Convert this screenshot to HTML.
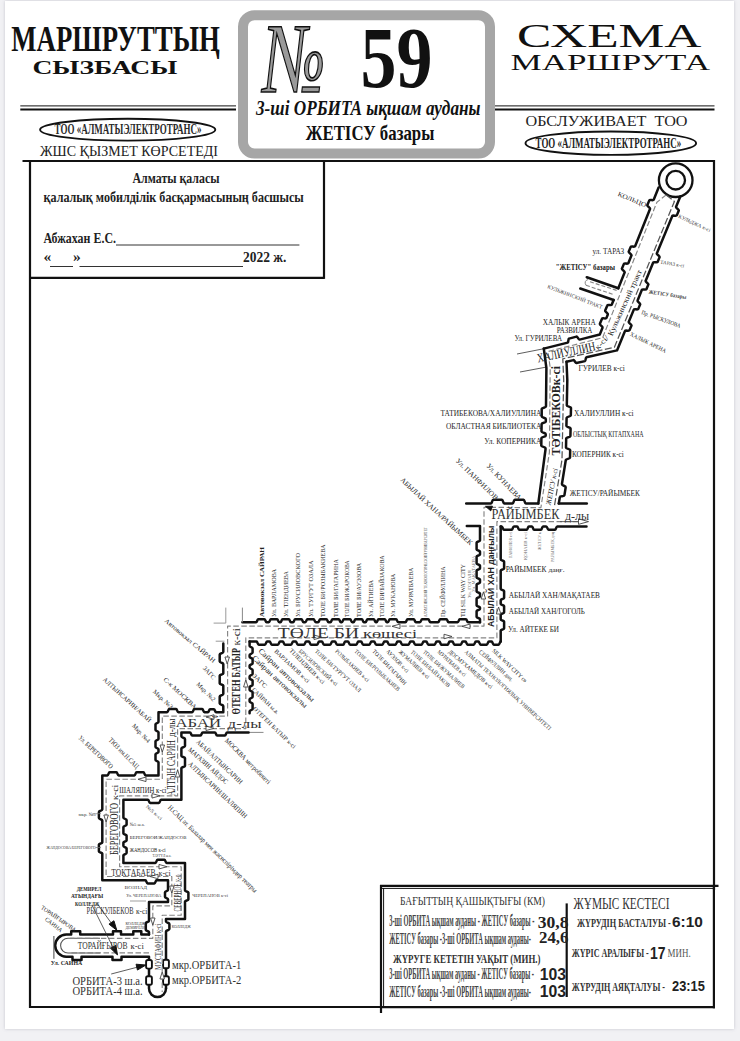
<!DOCTYPE html>
<html lang="kk">
<head>
<meta charset="utf-8">
<title>№ 59 — Маршруттың сызбасы / Схема маршрута</title>
<style>
html,body{margin:0;padding:0;background:#f1f1f4;}
body{width:740px;height:1041px;overflow:hidden;position:relative;font-family:"Liberation Serif",serif;}
#sheet{position:absolute;left:4.7px;top:1.3px;width:729.8px;height:1028px;background:#fff;box-shadow:0 0 3px rgba(120,120,140,.35);}
svg{position:absolute;left:0;top:0;}
text{white-space:pre;}
</style>
</head>
<body>
<div id="sheet"></div>
<svg width="740" height="1041" viewBox="0 0 740 1041">
<text font-family='"Liberation Serif", serif' font-size="36.7" font-weight="bold" textLength="208.5" lengthAdjust="spacingAndGlyphs" fill="#111" x="11.3" y="50.9" >МАРШРУТТЫҢ</text>
<text font-family='"Liberation Serif", serif' font-size="18.2" font-weight="bold" textLength="145.0" lengthAdjust="spacingAndGlyphs" fill="#111" x="32.4" y="74.0" >СЫЗБАСЫ</text>
<line x1="20.3" y1="105.9" x2="236.0" y2="105.9" stroke="#111" stroke-width="1" />
<line x1="20.3" y1="109.6" x2="236.0" y2="109.6" stroke="#111" stroke-width="2" />
<ellipse cx="127.7" cy="129.7" rx="87.6" ry="10.9" fill="none" stroke="#111" stroke-width="1.9"/>
<text font-family='"Liberation Serif", serif' font-size="14" font-weight="bold" textLength="147.0" lengthAdjust="spacingAndGlyphs" fill="#2a2a2a" x="54.5" y="134.0" >ТОО «АЛМАТЫЭЛЕКТРОТРАНС»</text>
<text font-family='"Liberation Serif", serif' font-size="14.7" textLength="178.0" lengthAdjust="spacingAndGlyphs" fill="#222" x="40.0" y="155.9" >ЖШС ҚЫЗМЕТ КӨРСЕТЕДІ</text>
<text font-family='"Liberation Serif", serif' font-size="33.5" textLength="184.5" lengthAdjust="spacingAndGlyphs" fill="#111" x="517.0" y="47.2" >СХЕМА</text>
<text font-family='"Liberation Serif", serif' font-size="22.6" textLength="199.5" lengthAdjust="spacingAndGlyphs" fill="#111" x="510.5" y="69.9" >МАРШРУТА</text>
<line x1="495.0" y1="105.9" x2="714.5" y2="105.9" stroke="#111" stroke-width="1" />
<line x1="495.0" y1="109.6" x2="714.5" y2="109.6" stroke="#111" stroke-width="2" />
<text font-family='"Liberation Serif", serif' font-size="15" textLength="162.0" lengthAdjust="spacingAndGlyphs" fill="#222" x="525.5" y="125.7" >ОБСЛУЖИВАЕТ  ТОО</text>
<ellipse cx="610.8" cy="143.2" rx="85.3" ry="11.7" fill="none" stroke="#111" stroke-width="1.9"/>
<text font-family='"Liberation Serif", serif' font-size="14.2" font-weight="bold" textLength="145.5" lengthAdjust="spacingAndGlyphs" fill="#222" x="535.6" y="147.7" >ТОО «АЛМАТЫЭЛЕКТРОТРАНС»</text>
<rect x="243" y="15.2" width="247" height="138.3" rx="11.5" ry="11.5" fill="#fff" stroke="#a6a6a6" stroke-width="10"/>
<text font-family='"Liberation Serif", serif' font-size="100" font-style="italic" textLength="62.0" lengthAdjust="spacingAndGlyphs" fill="#9a9a9a" x="263.0" y="91.5" stroke="#111" stroke-width="1.7" paint-order="fill stroke">№</text>
<text font-family='"Liberation Serif", serif' font-size="87" font-weight="bold" textLength="72.0" lengthAdjust="spacingAndGlyphs" fill="#111" x="360.5" y="87.0" >59</text>
<text font-family='"Liberation Serif", serif' font-size="20" font-weight="bold" font-style="italic" textLength="224.5" lengthAdjust="spacingAndGlyphs" fill="#111" x="256.0" y="115.3" >3-ші ОРБИТА ықшам ауданы</text>
<text font-family='"Liberation Serif", serif' font-size="21" font-weight="bold" textLength="128.5" lengthAdjust="spacingAndGlyphs" fill="#111" x="305.8" y="140.0" >ЖЕТІСУ базары</text>
<line x1="22.5" y1="161.0" x2="715.0" y2="161.0" stroke="#111" stroke-width="2.2" />
<line x1="30.0" y1="160.0" x2="30.0" y2="1008.0" stroke="#111" stroke-width="2.2" />
<line x1="29.0" y1="1007.0" x2="382.0" y2="1007.0" stroke="#111" stroke-width="2.2" />
<line x1="714.0" y1="160.0" x2="714.0" y2="890.0" stroke="#111" stroke-width="2.2" />
<line x1="30.0" y1="277.8" x2="324.0" y2="277.8" stroke="#111" stroke-width="2.2" />
<line x1="324.0" y1="160.0" x2="324.0" y2="278.9" stroke="#111" stroke-width="2.2" />
<text font-family='"Liberation Serif", serif' font-size="15.5" font-weight="bold" textLength="87.0" lengthAdjust="spacingAndGlyphs" fill="#222" x="132.5" y="182.5" >Алматы қаласы</text>
<text font-family='"Liberation Serif", serif' font-size="15.5" font-weight="bold" textLength="260.3" lengthAdjust="spacingAndGlyphs" fill="#222" x="43.5" y="202.2" >қалалық мобилділік басқармасының басшысы</text>
<text font-family='"Liberation Serif", serif' font-size="15.5" font-weight="bold" textLength="72.5" lengthAdjust="spacingAndGlyphs" fill="#222" x="43.5" y="242.8" >Абжахан Е.С.</text>
<line x1="116.0" y1="245.0" x2="299.4" y2="245.0" stroke="#333" stroke-width="1" />
<text font-family='"Liberation Serif", serif' font-size="15.5" font-weight="bold" fill="#222" x="43.5" y="262.0" >«</text>
<text font-family='"Liberation Serif", serif' font-size="15.5" font-weight="bold" fill="#222" x="73.0" y="262.0" >»</text>
<line x1="50.0" y1="266.5" x2="73.0" y2="266.5" stroke="#333" stroke-width="1" />
<line x1="79.5" y1="266.5" x2="243.0" y2="266.5" stroke="#333" stroke-width="1" />
<text font-family='"Liberation Serif", serif' font-size="15.5" font-weight="bold" textLength="43.5" lengthAdjust="spacingAndGlyphs" fill="#222" x="243.0" y="262.0" >2022 ж.</text>
<circle cx="675.7" cy="180.2" r="16.8" fill="#fff" stroke="#111" stroke-width="2.3"/>
<circle cx="675.7" cy="180.2" r="9.3" fill="#fff" stroke="#111" stroke-width="2.3"/>
<path d="M658.6 187.5 L653.7 199.8 C653.3 200.8 649.7 199.4 649.3 200.4 L647.3 205.3 C646.9 206.3 650.5 207.8 650.1 208.8 L635.1 246.3 C634.7 247.3 631.1 245.9 630.7 246.9 L628.7 251.8 C628.3 252.8 631.9 254.3 631.5 255.3 L628.3 263.3 C627.9 264.3 624.3 262.9 623.9 263.9 L621.9 268.8 C621.5 269.8 625.1 271.3 624.7 272.3 L618.3 288.3" stroke="#111" stroke-width="2.5" fill="none" stroke-linejoin="round" stroke-linecap="round"/>
<path d="M586.8 277.3 L618.3 288.3" stroke="#111" stroke-width="2.6" fill="none" stroke-linejoin="round" stroke-linecap="round"/>
<path d="M580.3 288.6 L613.6 300.0" stroke="#111" stroke-width="2.6" fill="none" stroke-linejoin="round" stroke-linecap="round"/>
<path d="M613.6 300.0 L611.7 304.8 C611.3 305.8 607.7 304.3 607.3 305.4 L605.1 310.7 C604.7 311.8 608.3 313.2 607.9 314.2 L606.4 318.1 C606.0 319.1 602.4 317.6 602.0 318.7 L599.8 324.0 C599.4 325.1 603.0 326.5 602.6 327.5 L599.8 334.5 L579.6 339.6 C578.5 339.9 577.6 336.4 576.5 336.6 L569.0 338.6 C567.9 338.8 568.8 342.3 567.7 342.6 L543.8 348.6" stroke="#111" stroke-width="2.5" fill="none" stroke-linejoin="round" stroke-linecap="round"/>
<path d="M680.3 196.5 L676.0 207.0 C675.6 208.0 679.2 209.5 678.8 210.5 L676.8 215.4 C676.4 216.4 672.8 214.9 672.3 215.9 L656.8 253.6 C656.4 254.6 660.0 256.1 659.6 257.1 L657.6 262.0 C657.2 263.0 653.6 261.5 653.2 262.5 L645.6 280.9 C645.2 281.9 648.8 283.4 648.4 284.4 L646.4 289.3 C646.0 290.3 642.3 288.8 641.9 289.8 L637.5 300.7 C637.0 301.7 640.6 303.2 640.2 304.2 L638.2 309.1 C637.8 310.1 634.2 308.6 633.8 309.6 L628.7 322.0 C628.3 323.0 631.9 324.5 631.5 325.5 L629.4 330.4 C629.0 331.4 625.4 329.9 625.0 331.0 L617.0 350.4 L586.4 357.3 C585.3 357.5 586.0 360.8 585.0 361.1 L576.4 363.0 C575.3 363.2 574.5 359.9 573.5 360.1 L566.5 361.7" stroke="#111" stroke-width="2.5" fill="none" stroke-linejoin="round" stroke-linecap="round"/>
<line x1="517.0" y1="354.0" x2="543.5" y2="348.8" stroke="#333" stroke-width="0.8" />
<line x1="520.0" y1="372.0" x2="545.8" y2="367.2" stroke="#333" stroke-width="0.8" />
<path d="M543.8 348.6 L546.4 368.0 L546.0 406.6 C546.0 407.7 541.8 407.7 541.7 408.8 L541.7 416.6 C541.7 417.7 545.9 417.7 545.8 418.8 L545.8 421.7 C545.8 422.8 541.6 422.8 541.6 423.9 L541.5 431.6 C541.5 432.7 545.7 432.8 545.7 433.9 L545.7 435.8 C545.6 436.9 541.4 436.8 541.4 437.9 L541.3 445.7 C541.3 446.8 545.5 446.9 545.5 448.0 L545.5 449.5 L538.3 503.5" stroke="#111" stroke-width="2.5" fill="none" stroke-linejoin="round" stroke-linecap="round"/>
<path d="M566.5 361.7 L567.3 380.0 L566.8 405.5 C566.8 406.6 571.0 406.7 571.0 407.8 L570.8 415.6 C570.8 416.7 566.6 416.6 566.6 417.7 L566.4 426.1 C566.4 427.2 570.6 427.3 570.6 428.4 L570.4 436.2 C570.4 437.3 566.2 437.2 566.2 438.3 L566.0 447.7 C566.0 448.8 570.2 448.9 570.2 450.0 L570.0 457.8 C570.0 458.9 565.8 458.8 565.8 459.9 L565.8 460.0 L561.9 484.3 C561.7 485.4 565.9 486.1 565.7 487.2 L564.4 495.4 C564.2 496.5 560.0 495.8 559.9 496.9 L558.8 503.5" stroke="#111" stroke-width="2.5" fill="none" stroke-linejoin="round" stroke-linecap="round"/>
<path d="M466.2 503.5 L491.0 503.5 C492.1 503.5 492.1 499.7 493.2 499.7 L502.0 499.7 C503.1 499.7 503.1 503.5 504.2 503.5 L512.6 503.5 C513.7 503.5 513.7 499.7 514.8 499.7 L523.6 499.7 C524.7 499.7 524.7 503.5 525.8 503.5 L538.3 503.5" stroke="#111" stroke-width="2.5" fill="none" stroke-linejoin="round" stroke-linecap="round"/>
<path d="M558.8 503.5 L586.8 503.5" stroke="#111" stroke-width="2.5" fill="none" stroke-linejoin="round" stroke-linecap="round"/>
<path d="M586.5 526.4 L557.2 526.4 C556.1 526.4 556.1 529.8 555.0 529.8 L548.5 529.8 C547.4 529.8 547.4 526.4 546.2 526.4 L543.0 526.4 C542.0 526.4 542.0 529.8 540.9 529.8 L534.1 529.8 C533.0 529.8 533.0 526.4 532.0 526.4 L528.9 526.4 C527.8 526.4 527.8 529.8 526.6 529.8 L519.4 529.8 C518.2 529.8 518.2 526.4 517.1 526.4 L513.9 526.4 C512.8 526.4 512.8 529.8 511.7 529.8 L503.9 529.8 C502.8 529.8 502.8 526.4 501.7 526.4 L500.7 526.4" stroke="#111" stroke-width="2.5" fill="none" stroke-linejoin="round" stroke-linecap="round"/>
<path d="M500.7 526.4 L500.7 559.4 C500.7 560.5 504.1 560.5 504.1 561.6 L504.1 568.4 C504.1 569.5 500.7 569.5 500.7 570.6 L500.7 588.9 C500.7 590.0 504.1 590.0 504.1 591.1 L504.1 597.9 C504.1 599.0 500.7 599.0 500.7 600.1 L500.7 603.9 C500.7 605.0 504.1 605.0 504.1 606.1 L504.1 612.4 C504.1 613.5 500.7 613.5 500.7 614.6 L500.7 619.4 C500.7 620.5 504.1 620.5 504.1 621.6 L504.1 628.4 C504.1 629.5 500.7 629.5 500.7 630.6 L500.7 641.6" stroke="#111" stroke-width="2.5" fill="none" stroke-linejoin="round" stroke-linecap="round"/>
<path d="M466.8 526.0 L480.0 526.0 L480.0 540.4 C480.0 541.5 476.6 541.5 476.6 542.6 L476.6 549.4 C476.6 550.5 480.0 550.5 480.0 551.6 L480.0 554.4 C480.0 555.5 476.6 555.5 476.6 556.6 L476.6 563.4 C476.6 564.5 480.0 564.5 480.0 565.6 L480.0 568.4 C480.0 569.5 476.6 569.5 476.6 570.6 L476.6 577.4 C476.6 578.5 480.0 578.5 480.0 579.6 L480.0 582.4 C480.0 583.5 476.6 583.5 476.6 584.6 L476.6 591.4 C476.6 592.5 480.0 592.5 480.0 593.6 L480.0 596.4 C480.0 597.5 476.6 597.5 476.6 598.6 L476.6 605.4 C476.6 606.5 480.0 606.5 480.0 607.6 L480.0 608.9 C480.0 610.0 476.6 610.0 476.6 611.1 L476.6 616.9 C476.6 618.0 480.0 618.0 480.0 619.1 L480.0 622.3" stroke="#111" stroke-width="2.5" fill="none" stroke-linejoin="round" stroke-linecap="round"/>
<path d="M480.0 622.3 L468.1 622.3 C467.0 622.3 467.0 619.2 465.9 619.2 L459.8 619.2 C458.8 619.2 458.8 622.3 457.6 622.3 L448.6 622.3 C447.5 622.3 447.5 619.2 446.4 619.2 L440.3 619.2 C439.2 619.2 439.2 622.3 438.1 622.3 L430.4 622.3 C429.3 622.3 429.3 619.2 428.2 619.2 L422.1 619.2 C421.1 619.2 421.1 622.3 419.9 622.3 L415.9 622.3 C414.8 622.3 414.8 619.2 413.7 619.2 L407.6 619.2 C406.5 619.2 406.5 622.3 405.4 622.3 L398.2 622.3 C397.1 622.3 397.1 619.2 396.1 619.2 L389.9 619.2 C388.9 619.2 388.9 622.3 387.8 622.3 L386.9 622.3 C385.8 622.3 385.8 619.2 384.7 619.2 L378.6 619.2 C377.5 619.2 377.5 622.3 376.4 622.3 L375.9 622.3 C374.8 622.3 374.8 619.2 373.7 619.2 L367.6 619.2 C366.5 619.2 366.5 622.3 365.4 622.3 L363.9 622.3 C362.9 622.3 362.9 619.2 361.8 619.2 L355.6 619.2 C354.5 619.2 354.5 622.3 353.4 622.3 L352.2 622.3 C351.1 622.3 351.1 619.2 350.1 619.2 L343.9 619.2 C342.9 619.2 342.9 622.3 341.8 622.3 L340.9 622.3 C339.8 622.3 339.8 619.2 338.7 619.2 L332.6 619.2 C331.5 619.2 331.5 622.3 330.4 622.3 L328.6 622.3 C327.5 622.3 327.5 619.2 326.4 619.2 L320.3 619.2 C319.2 619.2 319.2 622.3 318.1 622.3 L315.8 622.3 C314.6 622.3 314.6 619.2 313.6 619.2 L307.4 619.2 C306.4 619.2 306.4 622.3 305.2 622.3 L303.6 622.3 C302.5 622.3 302.5 619.2 301.4 619.2 L295.2 619.2 C294.1 619.2 294.1 622.3 293.1 622.3 L290.9 622.3 C289.9 622.3 289.9 619.2 288.8 619.2 L282.6 619.2 C281.5 619.2 281.5 622.3 280.4 622.3 L279.2 622.3 C278.1 622.3 278.1 619.2 277.1 619.2 L270.9 619.2 C269.9 619.2 269.9 622.3 268.8 622.3 L266.6 622.3 C265.5 622.3 265.5 619.2 264.4 619.2 L258.3 619.2 C257.2 619.2 257.2 622.3 256.1 622.3 L242.4 622.3" stroke="#111" stroke-width="2.5" fill="none" stroke-linejoin="round" stroke-linecap="round"/>
<path d="M500.7 641.6 L500.8 641.6 C499.7 641.6 499.7 644.7 498.6 644.7 L493.8 644.7 C492.7 644.7 492.7 641.6 491.6 641.6 L488.9 641.6 C487.8 641.6 487.8 644.7 486.7 644.7 L480.6 644.7 C479.5 644.7 479.5 641.6 478.4 641.6 L475.9 641.6 C474.8 641.6 474.8 644.7 473.7 644.7 L467.6 644.7 C466.5 644.7 466.5 641.6 465.4 641.6 L462.8 641.6 C461.7 641.6 461.7 644.7 460.6 644.7 L454.5 644.7 C453.4 644.7 453.4 641.6 452.3 641.6 L449.8 641.6 C448.6 641.6 448.6 644.7 447.6 644.7 L441.4 644.7 C440.4 644.7 440.4 641.6 439.2 641.6 L436.7 641.6 C435.6 641.6 435.6 644.7 434.5 644.7 L428.4 644.7 C427.3 644.7 427.3 641.6 426.2 641.6 L423.7 641.6 C422.6 641.6 422.6 644.7 421.5 644.7 L415.4 644.7 C414.2 644.7 414.2 641.6 413.2 641.6 L410.6 641.6 C409.5 641.6 409.5 644.7 408.4 644.7 L402.3 644.7 C401.2 644.7 401.2 641.6 400.1 641.6 L397.6 641.6 C396.5 641.6 396.5 644.7 395.4 644.7 L389.2 644.7 C388.1 644.7 388.1 641.6 387.1 641.6 L384.5 641.6 C383.4 641.6 383.4 644.7 382.3 644.7 L376.2 644.7 C375.1 644.7 375.1 641.6 374.0 641.6 L371.5 641.6 C370.4 641.6 370.4 644.7 369.3 644.7 L363.2 644.7 C362.1 644.7 362.1 641.6 361.0 641.6 L358.4 641.6 C357.3 641.6 357.3 644.7 356.2 644.7 L350.1 644.7 C349.0 644.7 349.0 641.6 347.9 641.6 L345.4 641.6 C344.2 641.6 344.2 644.7 343.2 644.7 L337.1 644.7 C336.0 644.7 336.0 641.6 334.9 641.6 L332.3 641.6 C331.2 641.6 331.2 644.7 330.1 644.7 L324.0 644.7 C322.9 644.7 322.9 641.6 321.8 641.6 L319.2 641.6 C318.1 641.6 318.1 644.7 317.1 644.7 L310.9 644.7 C309.9 644.7 309.9 641.6 308.8 641.6 L306.2 641.6 C305.1 641.6 305.1 644.7 304.0 644.7 L297.9 644.7 C296.8 644.7 296.8 641.6 295.7 641.6 L293.2 641.6 C292.1 641.6 292.1 644.7 291.0 644.7 L284.9 644.7 C283.8 644.7 283.8 641.6 282.7 641.6 L280.1 641.6 C279.0 641.6 279.0 644.7 277.9 644.7 L271.8 644.7 C270.7 644.7 270.7 641.6 269.6 641.6 L267.1 641.6 C266.0 641.6 266.0 644.7 264.9 644.7 L258.8 644.7 C257.6 644.7 257.6 641.6 256.6 641.6 L249.6 641.6" stroke="#111" stroke-width="2.5" fill="none" stroke-linejoin="round" stroke-linecap="round"/>
<path d="M242.4 607.6 L242.4 622.3" stroke="#888" stroke-width="1.0" fill="none" />
<path d="M225.8 607.6 L225.8 623.1 L213.6 623.1" stroke="#999" stroke-width="1.0" fill="none" />
<line x1="215.7" y1="641.2" x2="224.5" y2="641.2" stroke="#999" stroke-width="1.0" />
<path d="M249.6 641.6 L249.6 646.1 C249.6 647.2 252.6 647.2 252.6 648.4 L252.6 652.6 C252.6 653.8 249.6 653.8 249.6 654.9 L249.6 656.9 C249.6 658.0 252.6 658.0 252.6 659.1 L252.6 663.4 C252.6 664.5 249.6 664.5 249.6 665.6 L249.6 667.6 C249.6 668.8 252.6 668.8 252.6 669.9 L252.6 674.1 C252.6 675.2 249.6 675.2 249.6 676.4 L249.6 678.4 C249.6 679.5 252.6 679.5 252.6 680.6 L252.6 684.9 C252.6 686.0 249.6 686.0 249.6 687.1 L249.6 690.0 C249.6 691.1 252.6 691.1 252.6 692.2 L252.6 697.0 C252.6 698.1 249.6 698.1 249.6 699.2 L249.6 701.5 C249.6 702.6 252.6 702.6 252.6 703.8 L252.6 709.0 C252.6 710.1 249.6 710.1 249.6 711.2 L249.6 713.2" stroke="#111" stroke-width="2.5" fill="none" stroke-linejoin="round" stroke-linecap="round"/>
<path d="M223.3 643.5 L223.3 652.1 C223.3 653.2 219.7 653.2 219.7 654.4 L219.7 661.6 C219.7 662.8 223.3 662.8 223.3 663.9 L223.3 673.4 C223.3 674.5 219.7 674.5 219.7 675.6 L219.7 683.4 C219.7 684.5 223.3 684.5 223.3 685.6 L223.3 694.1 C223.3 695.2 219.7 695.2 219.7 696.4 L219.7 703.6 C219.7 704.8 223.3 704.8 223.3 705.9 L223.3 712.3 L216.1 712.3 C215.0 712.3 215.0 709.3 213.9 709.3 L210.1 709.3 C209.0 709.3 209.0 712.3 207.9 712.3 L204.4 712.3 C203.3 712.3 203.3 709.1 202.2 709.1 L194.4 709.1 C193.3 709.1 193.3 712.3 192.2 712.3 L178.3 712.3 C177.2 712.3 177.2 709.1 176.1 709.1 L169.3 709.1 C168.2 709.1 168.2 712.3 167.1 712.3 L158.5 712.3 L158.5 722.0 C158.5 723.1 155.5 723.1 155.5 724.2 L155.5 730.0 C155.5 731.1 158.5 731.1 158.5 732.2 L158.5 739.0 C158.5 740.1 155.5 740.1 155.5 741.2 L155.5 747.0 C155.5 748.1 158.5 748.1 158.5 749.2 L158.5 752.0 C158.5 753.1 155.5 753.1 155.5 754.2 L155.5 760.0 C155.5 761.1 158.5 761.1 158.5 762.2 L158.5 775.4 L145.6 775.4 C144.5 775.4 144.5 772.2 143.4 772.2 L136.6 772.2 C135.5 772.2 135.5 775.4 134.4 775.4 L118.6 775.4 C117.5 775.4 117.5 772.2 116.4 772.2 L109.6 772.2 C108.5 772.2 108.5 775.4 107.4 775.4 L102.3 775.4 L102.3 809.6 C102.3 810.8 98.9 810.8 98.9 811.9 L98.9 818.1 C98.9 819.2 102.3 819.2 102.3 820.4 L102.3 842.4 C102.3 843.5 98.9 843.5 98.9 844.6 L98.9 851.4 C98.9 852.5 102.3 852.5 102.3 853.6 L102.3 880.3 L145.4 880.3 C146.5 880.3 146.5 883.5 147.6 883.5 L154.4 883.5 C155.5 883.5 155.5 880.3 156.6 880.3 L168.0 880.3 L168.0 890.0 C168.0 891.1 165.0 891.1 165.0 892.2 L165.0 897.0 C165.0 898.1 168.0 898.1 168.0 899.2 L168.0 902.0 L149.0 902.0 L149.0 920.9 C149.0 922.0 145.8 922.0 145.8 923.1 L145.8 929.9 C145.8 931.0 149.0 931.0 149.0 932.1 L149.0 934.5" stroke="#111" stroke-width="2.5" fill="none" stroke-linejoin="round" stroke-linecap="round"/>
<line x1="248.0" y1="732.4" x2="263.5" y2="732.4" stroke="#888" stroke-width="1.0" />
<path d="M248.6 732.4 L227.1 732.4 C226.0 732.4 226.0 735.6 224.9 735.6 L217.1 735.6 C216.0 735.6 216.0 732.4 214.9 732.4 L202.7 732.4 C201.6 732.4 201.6 735.6 200.5 735.6 L192.2 735.6 C191.1 735.6 191.1 732.4 190.0 732.4 L181.4 732.4 L181.4 736.6 C181.4 737.8 185.0 737.8 185.0 738.9 L185.0 746.1 C185.0 747.2 181.4 747.2 181.4 748.4 L181.4 755.9 C181.4 757.0 185.0 757.0 185.0 758.1 L185.0 765.9 C185.0 767.0 181.4 767.0 181.4 768.1 L181.4 799.7 L161.1 799.7 C160.0 799.7 160.0 802.9 158.9 802.9 L150.1 802.9 C149.0 802.9 149.0 799.7 147.9 799.7 L123.4 799.7 L123.4 817.8 C123.4 818.9 126.6 818.9 126.6 820.0 L126.6 824.8 C126.6 825.9 123.4 825.9 123.4 827.0 L123.4 833.4 C123.4 834.5 126.6 834.5 126.6 835.6 L126.6 840.4 C126.6 841.5 123.4 841.5 123.4 842.6 L123.4 846.1 C123.4 847.2 126.6 847.2 126.6 848.3 L126.6 853.1 C126.6 854.2 123.4 854.2 123.4 855.3 L123.4 862.9 L155.4 862.9 C156.5 862.9 156.5 859.7 157.6 859.7 L164.4 859.7 C165.5 859.7 165.5 862.9 166.6 862.9 L185.0 862.9 L185.0 890.4 C185.0 891.5 188.4 891.5 188.4 892.6 L188.4 899.4 C188.4 900.5 185.0 900.5 185.0 901.6 L185.0 919.0 L166.0 919.0 L166.0 921.6 C166.0 922.8 169.4 922.8 169.4 923.9 L169.4 929.1 C169.4 930.2 166.0 930.2 166.0 931.4 L166.0 988.5" stroke="#111" stroke-width="2.5" fill="none" stroke-linejoin="round" stroke-linecap="round"/>
<path d="M149 934.5 L141.3 934.5 L141.3 931.3 L133.3 931.3 L133.3 934.5 L121.0 934.5 L121.0 931.3 L113.0 931.3 L113.0 934.5 L80.2 934.5 L80.2 931.3 L71.2 931.3 L71.2 934.5 L66.3 934.5 A11.1 11.1 0 0 0 66.3 956.7 L72.5 956.7 L72.5 959.9 L81.5 959.9 L81.5 956.7 L112.5 956.7 L112.5 959.9 L121.5 959.9 L121.5 956.7 L149 956.7 L149 988.5 A8.5 8.5 0 0 0 166 988.5" stroke="#111" stroke-width="2.5" fill="none" stroke-linejoin="round" stroke-linecap="round"/>
<rect x="146.1" y="960.0" width="5.8" height="8.6" rx="1.8" fill="#fff" stroke="#111" stroke-width="1.9"/>
<rect x="146.1" y="976.2" width="5.8" height="8.6" rx="1.8" fill="#fff" stroke="#111" stroke-width="1.9"/>
<rect x="163.1" y="959.7" width="5.8" height="8.6" rx="1.8" fill="#fff" stroke="#111" stroke-width="1.9"/>
<rect x="163.1" y="976.2" width="5.8" height="8.6" rx="1.8" fill="#fff" stroke="#111" stroke-width="1.9"/>
<path d="M100 938.2 L68 938.2 A7.4 7.4 0 0 0 68 953 L100 953" stroke="#555" stroke-width="1.1" fill="none" />
<path d="M53.9 936 L53.9 958.8" stroke="#444" stroke-width="1.0" fill="none" />
<path d="M666.2 194.9 L656.9 202.2 L602.6 337.7 L548.0 351.5 L550.2 367.8 L549.4 452.3 L540.9 507.7 L484.0 507.3 L484.0 626.1 L227.6 626.1 L227.6 716.1 L162.3 716.1 L162.3 779.2 L106.1 779.2 L106.1 876.5 L171.8 876.5 L171.8 905.8 L152.8 905.8 L152.8 938.3 L70.0 938.3" stroke="#858585" stroke-width="1.15" fill="none" stroke-dasharray="5.5 2.5" stroke-linejoin="round"/>
<path d="M666.2 194.9 L674.4 201.4 L614.4 347.3 L562.8 358.8 L563.7 380.0 L562.0 459.7 L554.2 507.4" stroke="#555" stroke-width="1.25" fill="none" stroke-dasharray="7 2.5" stroke-linejoin="round"/>
<path d="M586.0 521.6 L496.9 521.6 L496.9 637.8 L245.8 637.8 L245.8 728.6 L177.6 728.6 L177.6 795.9 L119.6 795.9 L119.6 866.7 L181.2 866.7 L181.2 915.2 L162.2 915.2 L162.2 992.0" stroke="#858585" stroke-width="1.15" fill="none" stroke-dasharray="5.5 2.5" stroke-linejoin="round"/>
<path d="M590.0 281.8 L617.0 290.5" stroke="#858585" stroke-width="1.15" fill="none" stroke-dasharray="4 2" stroke-linejoin="round"/>
<path d="M586.0 285.3 L613.5 294.5" stroke="#858585" stroke-width="1.15" fill="none" stroke-dasharray="4 2" stroke-linejoin="round"/>
<path d="M588 279.5 Q583.5 281 586 285.3" stroke="#777" stroke-width="0.9" fill="none" />
<path d="M149.0 952.9 L70.0 952.9" stroke="#858585" stroke-width="1.15" fill="none" stroke-dasharray="5.5 2.5" stroke-linejoin="round"/>
<path d="M0 0 L-10 -2.75 L-10 2.75 Z" transform="translate(588.5 521.6) rotate(0)" fill="#fff" stroke="#444" stroke-width="0.9" stroke-linejoin="round"/>
<line x1="560.0" y1="521.6" x2="579.0" y2="521.6" stroke="#555" stroke-width="0.9" />
<path d="M0 0 L-6.5 -2.5 L-6.5 2.5 Z" transform="translate(485.5 506.3) rotate(200)" fill="#111" stroke="#111" stroke-width="0.9" stroke-linejoin="round"/>
<path d="M0 0 L-7 -2.25 L-7 2.25 Z" transform="translate(483.4 592.0) rotate(-90)" fill="#fff" stroke="#444" stroke-width="0.9" stroke-linejoin="round"/>
<path d="M0 0 L-7 -2.25 L-7 2.25 Z" transform="translate(498.6 607.0) rotate(-90)" fill="#fff" stroke="#444" stroke-width="0.9" stroke-linejoin="round"/>
<path d="M0 0 L-8 -2.25 L-8 2.25 Z" transform="translate(452.0 636.5) rotate(0)" fill="#fff" stroke="#444" stroke-width="0.9" stroke-linejoin="round"/>
<path d="M0 0 L-8 -2.25 L-8 2.25 Z" transform="translate(462.0 626.3) rotate(180)" fill="#fff" stroke="#444" stroke-width="0.9" stroke-linejoin="round"/>
<path d="M0 0 L-8 -2.25 L-8 2.25 Z" transform="translate(392.0 626.3) rotate(180)" fill="#fff" stroke="#444" stroke-width="0.9" stroke-linejoin="round"/>
<path d="M0 0 L-8 -2.25 L-8 2.25 Z" transform="translate(322.0 637.3) rotate(0)" fill="#fff" stroke="#444" stroke-width="0.9" stroke-linejoin="round"/>
<path d="M0 0 L-7 -2.25 L-7 2.25 Z" transform="translate(227.2 664.0) rotate(90)" fill="#fff" stroke="#444" stroke-width="0.9" stroke-linejoin="round"/>
<path d="M0 0 L-7 -2.25 L-7 2.25 Z" transform="translate(245.8 680.0) rotate(-90)" fill="#fff" stroke="#444" stroke-width="0.9" stroke-linejoin="round"/>
<path d="M0 0 L-8 -2.25 L-8 2.25 Z" transform="translate(206.0 717.0) rotate(180)" fill="#fff" stroke="#444" stroke-width="0.9" stroke-linejoin="round"/>
<path d="M0 0 L-8 -2.25 L-8 2.25 Z" transform="translate(214.0 728.3) rotate(0)" fill="#fff" stroke="#444" stroke-width="0.9" stroke-linejoin="round"/>
<path d="M0 0 L-7 -2.25 L-7 2.25 Z" transform="translate(162.3 752.0) rotate(90)" fill="#fff" stroke="#444" stroke-width="0.9" stroke-linejoin="round"/>
<path d="M0 0 L-7 -2.25 L-7 2.25 Z" transform="translate(177.6 770.0) rotate(-90)" fill="#fff" stroke="#444" stroke-width="0.9" stroke-linejoin="round"/>
<path d="M0 0 L-8 -2.25 L-8 2.25 Z" transform="translate(138.0 779.3) rotate(180)" fill="#fff" stroke="#444" stroke-width="0.9" stroke-linejoin="round"/>
<path d="M0 0 L-8 -2.25 L-8 2.25 Z" transform="translate(160.0 795.8) rotate(0)" fill="#fff" stroke="#444" stroke-width="0.9" stroke-linejoin="round"/>
<path d="M0 0 L-7 -2.25 L-7 2.25 Z" transform="translate(106.1 822.0) rotate(90)" fill="#fff" stroke="#444" stroke-width="0.9" stroke-linejoin="round"/>
<path d="M0 0 L-8 -2.25 L-8 2.25 Z" transform="translate(167.0 866.7) rotate(0)" fill="#fff" stroke="#444" stroke-width="0.9" stroke-linejoin="round"/>
<path d="M0 0 L-8 -2.25 L-8 2.25 Z" transform="translate(150.0 876.5) rotate(180)" fill="#fff" stroke="#444" stroke-width="0.9" stroke-linejoin="round"/>
<path d="M0 0 L-7 -2.25 L-7 2.25 Z" transform="translate(171.8 893.0) rotate(90)" fill="#fff" stroke="#444" stroke-width="0.9" stroke-linejoin="round"/>
<path d="M0 0 L-7 -2.25 L-7 2.25 Z" transform="translate(152.8 925.0) rotate(90)" fill="#fff" stroke="#444" stroke-width="0.9" stroke-linejoin="round"/>
<path d="M0 0 L-7 -2.25 L-7 2.25 Z" transform="translate(162.2 972.0) rotate(-90)" fill="#fff" stroke="#444" stroke-width="0.9" stroke-linejoin="round"/>
<text font-family='"Liberation Serif", serif' font-size="6.6" textLength="30.3" lengthAdjust="spacingAndGlyphs" fill="#272727" transform="translate(617.3 195.8) rotate(22.3)" >КОЛЬЦО</text>
<text font-family='"Liberation Serif", serif' font-size="5.2" textLength="34.7" lengthAdjust="spacingAndGlyphs" fill="#3c3c3c" transform="translate(678.0 217.5) rotate(24.7)" >КУЛЬДЖА к-сі</text>
<text font-family='"Liberation Serif", serif' font-size="8.2" textLength="31.8" lengthAdjust="spacingAndGlyphs" fill="#272727" x="592.4" y="254.0" >ул. ТАРАЗ</text>
<text font-family='"Liberation Serif", serif' font-size="7.6" font-weight="bold" textLength="59.3" lengthAdjust="spacingAndGlyphs" fill="#222" x="555.7" y="269.6" >"ЖЕТІСУ" базары</text>
<text font-family='"Liberation Serif", serif' font-size="5.2" textLength="24.3" lengthAdjust="spacingAndGlyphs" fill="#3c3c3c" transform="translate(660.0 263.5) rotate(9.5)" >ТАРАЗ к-сі</text>
<text font-family='"Liberation Serif", serif' font-size="5.6" font-weight="bold" textLength="37.9" lengthAdjust="spacingAndGlyphs" fill="#3c3c3c" transform="translate(648.5 293.5) rotate(8.3)" >ЖЕТІСУ базары</text>
<text font-family='"Liberation Serif", serif' font-size="6" textLength="41.4" lengthAdjust="spacingAndGlyphs" fill="#272727" transform="translate(641.0 314.0) rotate(19.7)" >Пр. РЫСКУЛОВА</text>
<text font-family='"Liberation Serif", serif' font-size="6" textLength="39.6" lengthAdjust="spacingAndGlyphs" fill="#272727" transform="translate(629.5 335.5) rotate(26.2)" >ХАЛЫК АРЕНА</text>
<text font-family='"Liberation Serif", serif' font-size="5.6" textLength="58.4" lengthAdjust="spacingAndGlyphs" fill="#3c3c3c" transform="translate(547.0 288.0) rotate(21.1)" >КУЛЬЖИНСКИЙ ТРАКТ</text>
<text font-family='"Liberation Serif", serif' font-size="7.6" textLength="53.0" lengthAdjust="spacingAndGlyphs" fill="#1c1c1c" x="542.7" y="324.7" >ХАЛЫК АРЕНА</text>
<text font-family='"Liberation Serif", serif' font-size="7.6" textLength="35.6" lengthAdjust="spacingAndGlyphs" fill="#1c1c1c" x="556.8" y="333.3" >РАЗВИЛКА</text>
<text font-family='"Liberation Serif", serif' font-size="7.6" textLength="47.6" lengthAdjust="spacingAndGlyphs" fill="#1c1c1c" x="514.4" y="340.5" >Ул. ГУРИЛЕВА</text>
<text font-family='"Liberation Serif", serif' font-size="7.6" textLength="46.5" lengthAdjust="spacingAndGlyphs" fill="#1c1c1c" x="578.4" y="371.0" >ГУРИЛЕВ к-сі</text>
<text font-family='"Liberation Serif", serif' font-size="7.8" textLength="71.6" lengthAdjust="spacingAndGlyphs" fill="#222" transform="translate(612.3 336.4) rotate(-65.5)" >Кульжинский тракт</text>
<text font-family='"Liberation Serif", serif' font-size="12.5" textLength="59.4" lengthAdjust="spacingAndGlyphs" fill="#222" transform="translate(538.0 362.6) rotate(-12.3)" >ХАЛИУЛЛИН</text>
<text font-family='"Liberation Serif", serif' font-size="7.8" textLength="16.4" lengthAdjust="spacingAndGlyphs" fill="#222" transform="translate(598.3 350.2) rotate(-48.0)" >к-сі/</text>
<text font-family='"Liberation Serif", serif' font-size="13" font-weight="bold" textLength="89.5" lengthAdjust="spacingAndGlyphs" fill="#222" transform="translate(560.2 455.5) rotate(-90)" >ТӘТІБЕКОВк-сі</text>
<text font-family='"Liberation Serif", serif' font-size="7.2" font-style="italic" textLength="37.2" lengthAdjust="spacingAndGlyphs" fill="#222" transform="translate(550.4 505.4) rotate(-78.5)" >ЖЕТІСУ к-сі</text>
<text font-family='"Liberation Serif", serif' font-size="7.4" textLength="101.0" lengthAdjust="spacingAndGlyphs" fill="#1c1c1c" x="440.4" y="416.0" >ТАТИБЕКОВА/ХАЛИУЛЛИНА</text>
<text font-family='"Liberation Serif", serif' font-size="7.4" textLength="95.4" lengthAdjust="spacingAndGlyphs" fill="#1c1c1c" x="446.0" y="429.2" >ОБЛАСТНАЯ БИБЛИОТЕКА</text>
<text font-family='"Liberation Serif", serif' font-size="7.4" textLength="57.1" lengthAdjust="spacingAndGlyphs" fill="#1c1c1c" x="484.3" y="444.3" >Ул. КОПЕРНИКА</text>
<text font-family='"Liberation Serif", serif' font-size="7.4" textLength="59.5" lengthAdjust="spacingAndGlyphs" fill="#1c1c1c" x="574.0" y="416.0" >ХАЛИУЛЛИН к-сі</text>
<text font-family='"Liberation Serif", serif' font-size="7.2" textLength="70.6" lengthAdjust="spacingAndGlyphs" fill="#1c1c1c" x="573.0" y="436.8" >ОБЛЫСТЫҚ КІТАПХАНА</text>
<text font-family='"Liberation Serif", serif' font-size="7.4" textLength="51.9" lengthAdjust="spacingAndGlyphs" fill="#1c1c1c" x="571.9" y="457.4" >КОПЕРНИК к-сі</text>
<text font-family='"Liberation Serif", serif' font-size="7.2" textLength="70.2" lengthAdjust="spacingAndGlyphs" fill="#1c1c1c" x="569.7" y="496.4" >ЖЕТІСУ/РАЙЫМБЕК</text>
<text font-family='"Liberation Serif", serif' font-size="7.2" textLength="56.1" lengthAdjust="spacingAndGlyphs" fill="#272727" transform="translate(455.3 461.3) rotate(44.3)" >Ул. ПАНФИЛОВ</text>
<text font-family='"Liberation Serif", serif' font-size="7.4" textLength="47.3" lengthAdjust="spacingAndGlyphs" fill="#272727" transform="translate(485.9 466.2) rotate(46.5)" >Ул. КУНАЕВА</text>
<text font-family='"Liberation Serif", serif' font-size="7.2" textLength="95.5" lengthAdjust="spacingAndGlyphs" fill="#272727" transform="translate(399.9 480.6) rotate(42.8)" >АБЫЛАЙ ХАНА/РАЙЫМБЕК</text>
<text font-family='"Liberation Serif", serif' font-size="13.8" textLength="67.9" lengthAdjust="spacingAndGlyphs" fill="#333" x="491.6" y="518.6" >РАЙЫМБЕК</text>
<text font-family='"Liberation Serif", serif' font-size="11.5" textLength="24.3" lengthAdjust="spacingAndGlyphs" fill="#333" x="564.9" y="519.6" >д-лы</text>
<text font-family='"Liberation Serif", serif' font-size="4.2" textLength="26.0" lengthAdjust="spacingAndGlyphs" fill="#6a6a6a" transform="translate(511.8 558.0) rotate(-90)" >ПАНФИЛОВ к-сі</text>
<text font-family='"Liberation Serif", serif' font-size="4.2" textLength="28.0" lengthAdjust="spacingAndGlyphs" fill="#6a6a6a" transform="translate(527.0 560.0) rotate(-90)" >ҚОНАЕВ к-сі</text>
<text font-family='"Liberation Serif", serif' font-size="4.2" textLength="18.0" lengthAdjust="spacingAndGlyphs" fill="#6a6a6a" transform="translate(540.6 550.0) rotate(-90)" >ЖЕТІСУ к</text>
<text font-family='"Liberation Serif", serif' font-size="4.2" textLength="30.0" lengthAdjust="spacingAndGlyphs" fill="#6a6a6a" transform="translate(553.8 562.0) rotate(-90)" >РАЙЫМБЕК даң</text>
<text font-family='"Liberation Sans", sans-serif' font-size="9.3" font-weight="bold" textLength="101.4" lengthAdjust="spacingAndGlyphs" fill="#222" transform="translate(493.9 627.0) rotate(-90)" >АБЫЛАЙ ХАН даңғылы</text>
<text font-family='"Liberation Serif", serif' font-size="7.4" textLength="40.8" lengthAdjust="spacingAndGlyphs" fill="#1c1c1c" x="505.7" y="572.3" >РАЙЫМБЕК</text>
<text font-family='"Liberation Serif", serif' font-size="6" textLength="16.0" lengthAdjust="spacingAndGlyphs" fill="#272727" x="548.5" y="572.3" >даңғ.</text>
<text font-family='"Liberation Serif", serif' font-size="7.4" textLength="91.2" lengthAdjust="spacingAndGlyphs" fill="#1c1c1c" x="508.8" y="597.9" >АБЫЛАЙ ХАН/МАҚАТАЕВ</text>
<text font-family='"Liberation Serif", serif' font-size="7.4" textLength="76.0" lengthAdjust="spacingAndGlyphs" fill="#1c1c1c" x="508.8" y="614.0" >АБЫЛАЙ ХАН/ГОГОЛЬ</text>
<text font-family='"Liberation Serif", serif' font-size="7.4" textLength="51.0" lengthAdjust="spacingAndGlyphs" fill="#1c1c1c" x="508.0" y="631.7" >Ул. АЙТЕКЕ БИ</text>
<text font-family='"Liberation Serif", serif' font-size="3.8" textLength="28.0" lengthAdjust="spacingAndGlyphs" fill="#6a6a6a" transform="translate(470.6 598.0) rotate(-90)" >Ул. ГОГОЛЯ</text>
<text font-family='"Liberation Serif", serif' font-size="3.8" textLength="36.0" lengthAdjust="spacingAndGlyphs" fill="#6a6a6a" transform="translate(474.6 592.0) rotate(-90)" >Ул. МАКАТАЕВА</text>
<text font-family='"Liberation Serif", serif' font-size="6.2" font-weight="bold" textLength="70.0" lengthAdjust="spacingAndGlyphs" fill="#222" transform="translate(263.5 617.0) rotate(-90)" >Автовокзал САЙРАН</text>
<text font-family='"Liberation Serif", serif' font-size="5.8" textLength="48.0" lengthAdjust="spacingAndGlyphs" fill="#272727" transform="translate(276.0 617.0) rotate(-90)" >Ул. ВАРЛАМОВА</text>
<text font-family='"Liberation Serif", serif' font-size="5.8" textLength="46.0" lengthAdjust="spacingAndGlyphs" fill="#272727" transform="translate(287.7 617.0) rotate(-90)" >Ул. ТЛЕНДИЕВА</text>
<text font-family='"Liberation Serif", serif' font-size="5.8" textLength="64.0" lengthAdjust="spacingAndGlyphs" fill="#272727" transform="translate(300.3 617.0) rotate(-90)" >Ул. БРУСИЛОВСКОГО</text>
<text font-family='"Liberation Serif", serif' font-size="5.8" textLength="56.6" lengthAdjust="spacingAndGlyphs" fill="#272727" transform="translate(312.5 617.0) rotate(-90)" >Ул. ТУРГУТ ОЗАЛА</text>
<text font-family='"Liberation Serif", serif' font-size="5.8" textLength="72.4" lengthAdjust="spacingAndGlyphs" fill="#272727" transform="translate(325.4 617.0) rotate(-90)" >ТОЛЕ БИ/РОЗЫБАКИЕВА</text>
<text font-family='"Liberation Serif", serif' font-size="5.8" textLength="57.8" lengthAdjust="spacingAndGlyphs" fill="#272727" transform="translate(337.6 617.0) rotate(-90)" >ТОЛЕ БИ/ГАГАРИНА</text>
<text font-family='"Liberation Serif", serif' font-size="5.8" textLength="56.6" lengthAdjust="spacingAndGlyphs" fill="#272727" transform="translate(349.0 617.0) rotate(-90)" >ТОЛЕ БИ/ЖАРОКОВА</text>
<text font-family='"Liberation Serif", serif' font-size="5.8" textLength="54.2" lengthAdjust="spacingAndGlyphs" fill="#272727" transform="translate(360.7 617.0) rotate(-90)" >ТОЛЕ БИ/АУЭЗОВА</text>
<text font-family='"Liberation Serif", serif' font-size="5.8" textLength="37.0" lengthAdjust="spacingAndGlyphs" fill="#272727" transform="translate(372.6 617.0) rotate(-90)" >Ул. АЙТИЕВА</text>
<text font-family='"Liberation Serif", serif' font-size="5.8" textLength="61.5" lengthAdjust="spacingAndGlyphs" fill="#272727" transform="translate(383.6 617.0) rotate(-90)" >ТОЛЕ БИ/БАЙЗАКОВА</text>
<text font-family='"Liberation Serif", serif' font-size="5.8" textLength="43.2" lengthAdjust="spacingAndGlyphs" fill="#272727" transform="translate(395.0 617.0) rotate(-90)" >Ул. МУКАНОВА</text>
<text font-family='"Liberation Serif", serif' font-size="5.8" textLength="49.3" lengthAdjust="spacingAndGlyphs" fill="#272727" transform="translate(412.6 617.0) rotate(-90)" >Ул. МУРАТБАЕВА</text>
<text font-family='"Liberation Serif", serif' font-size="4.6" textLength="90.0" lengthAdjust="spacingAndGlyphs" fill="#3c3c3c" transform="translate(426.8 617.0) rotate(-90)" >АЛМАТИНСКИЙ ТЕХНОЛОГИЧЕСКИЙ УНИВЕРСИТЕТ</text>
<text font-family='"Liberation Serif", serif' font-size="5.8" textLength="50.5" lengthAdjust="spacingAndGlyphs" fill="#272727" transform="translate(445.4 617.0) rotate(-90)" >Пр. СЕЙФУЛЛИНА</text>
<text font-family='"Liberation Serif", serif' font-size="5.8" textLength="53.0" lengthAdjust="spacingAndGlyphs" fill="#272727" transform="translate(464.9 617.0) rotate(-90)" >ТЦ SILK WAY CITY</text>
<text font-family='"Liberation Serif", serif' font-size="14.2" textLength="81.2" lengthAdjust="spacingAndGlyphs" fill="#333" x="277.8" y="637.8" >ТӨЛЕ БИ</text>
<text font-family='"Liberation Serif", serif' font-size="13.5" textLength="54.0" lengthAdjust="spacingAndGlyphs" fill="#333" x="363.0" y="637.8" >көшесі</text>
<text font-family='"Liberation Serif", serif' font-size="7.6" textLength="74.0" lengthAdjust="spacingAndGlyphs" fill="#1c1c1c" transform="translate(257.9 651.4) rotate(43.4)" >Сайран автовокзалы</text>
<text font-family='"Liberation Serif", serif' font-size="6" textLength="45.8" lengthAdjust="spacingAndGlyphs" fill="#272727" transform="translate(273.9 651.8) rotate(43.2)" >ВАРЛАМОВ к-сі</text>
<text font-family='"Liberation Serif", serif' font-size="6" textLength="47.0" lengthAdjust="spacingAndGlyphs" fill="#272727" transform="translate(289.0 651.1) rotate(44.7)" >ТІЛЕНДИЕВ к-сі</text>
<text font-family='"Liberation Serif", serif' font-size="6" textLength="51.0" lengthAdjust="spacingAndGlyphs" fill="#272727" transform="translate(298.2 651.7) rotate(42.7)" >БРУСИЛОВСКИЙ к-сі</text>
<text font-family='"Liberation Serif", serif' font-size="6" textLength="60.4" lengthAdjust="spacingAndGlyphs" fill="#272727" transform="translate(314.4 651.7) rotate(42.4)" >ТОЛЕ БИ/ТУРГУТ ОЗАЛ</text>
<text font-family='"Liberation Serif", serif' font-size="6" textLength="44.5" lengthAdjust="spacingAndGlyphs" fill="#272727" transform="translate(334.7 651.7) rotate(43.3)" >РОЗЫБАКИЕВ к-сі</text>
<text font-family='"Liberation Serif", serif' font-size="6" textLength="59.1" lengthAdjust="spacingAndGlyphs" fill="#272727" transform="translate(353.9 651.8) rotate(42.1)" >ТОЛЕ БИ/РОЗЫБАКИЕВ</text>
<text font-family='"Liberation Serif", serif' font-size="6" textLength="46.4" lengthAdjust="spacingAndGlyphs" fill="#272727" transform="translate(372.0 651.7) rotate(46.2)" >ТОЛЕ БИ/ГАГАРИН</text>
<text font-family='"Liberation Serif", serif' font-size="6" textLength="29.8" lengthAdjust="spacingAndGlyphs" fill="#272727" transform="translate(385.7 651.8) rotate(45.4)" >АУЭЗОВ к-сі</text>
<text font-family='"Liberation Serif", serif' font-size="6" textLength="39.6" lengthAdjust="spacingAndGlyphs" fill="#272727" transform="translate(398.2 652.4) rotate(42.5)" >ЖУМАЛИЕВ к-сі</text>
<text font-family='"Liberation Serif", serif' font-size="6" textLength="51.6" lengthAdjust="spacingAndGlyphs" fill="#272727" transform="translate(410.3 652.4) rotate(43.1)" >ТОЛЕ БИ/БАЙЗАКОВ</text>
<text font-family='"Liberation Serif", serif' font-size="6" textLength="54.2" lengthAdjust="spacingAndGlyphs" fill="#272727" transform="translate(422.5 652.5) rotate(42.3)" >ТОЛЕ БИ/ЖУМАЛИЕВ</text>
<text font-family='"Liberation Serif", serif' font-size="6" textLength="36.2" lengthAdjust="spacingAndGlyphs" fill="#272727" transform="translate(437.1 652.5) rotate(42.2)" >МУРАТБАЕВ к-сі</text>
<text font-family='"Liberation Serif", serif' font-size="6" textLength="56.1" lengthAdjust="spacingAndGlyphs" fill="#272727" transform="translate(448.1 652.5) rotate(40.6)" >ДОСМУХАМЕДОВ к-сі</text>
<text font-family='"Liberation Serif", serif' font-size="6" textLength="115.4" lengthAdjust="spacingAndGlyphs" fill="#272727" transform="translate(463.9 652.4) rotate(42.5)" >АЛМАТЫ ТЕХНОЛОГИЯЛЫҚ УНИВЕРСИТЕТІ</text>
<text font-family='"Liberation Serif", serif' font-size="6" textLength="43.9" lengthAdjust="spacingAndGlyphs" fill="#272727" transform="translate(478.5 652.5) rotate(41.7)" >СЕЙФУЛЛИН даң.</text>
<text font-family='"Liberation Serif", serif' font-size="6" textLength="45.6" lengthAdjust="spacingAndGlyphs" fill="#272727" transform="translate(491.7 651.2) rotate(43.8)" >SILK WAY CITY сө</text>
<text font-family='"Liberation Serif", serif' font-size="11.8" font-weight="bold" textLength="66.5" lengthAdjust="spacingAndGlyphs" fill="#222" transform="translate(239.8 714.5) rotate(-90)" >ӨТЕГЕН БАТЫР</text>
<text font-family='"Liberation Serif", serif' font-size="9.5" textLength="17.5" lengthAdjust="spacingAndGlyphs" fill="#222" transform="translate(239.8 645.5) rotate(-90)" >к-сі</text>
<text font-family='"Liberation Serif", serif' font-size="6.4" textLength="64.4" lengthAdjust="spacingAndGlyphs" fill="#272727" transform="translate(164.1 621.5) rotate(40.2)" >Автовокзал САЙРАН</text>
<text font-family='"Liberation Serif", serif' font-size="6.4" textLength="15.4" lengthAdjust="spacingAndGlyphs" fill="#272727" transform="translate(202.5 668.4) rotate(47.6)" >ЗАГС</text>
<text font-family='"Liberation Serif", serif' font-size="6.4" textLength="24.0" lengthAdjust="spacingAndGlyphs" fill="#272727" transform="translate(196.0 684.7) rotate(45.0)" >Мкр. №2</text>
<text font-family='"Liberation Serif", serif' font-size="7.6" textLength="72.5" lengthAdjust="spacingAndGlyphs" fill="#1c1c1c" transform="translate(251.8 658.6) rotate(43.3)" >Сайран автовокзалы</text>
<text font-family='"Liberation Serif", serif' font-size="6.2" textLength="17.2" lengthAdjust="spacingAndGlyphs" fill="#272727" transform="translate(252.3 676.2) rotate(44.8)" >ЗАГС</text>
<text font-family='"Liberation Serif", serif' font-size="6.2" textLength="35.2" lengthAdjust="spacingAndGlyphs" fill="#272727" transform="translate(251.4 690.3) rotate(43.8)" >САЙРАН ы.а.</text>
<text font-family='"Liberation Serif", serif' font-size="6.2" textLength="57.3" lengthAdjust="spacingAndGlyphs" fill="#272727" transform="translate(252.4 709.1) rotate(44.0)" >ӨТЕГЕН БАТЫР к-сі</text>
<text font-family='"Liberation Serif", serif' font-size="13.4" textLength="45.5" lengthAdjust="spacingAndGlyphs" fill="#333" x="175.5" y="727.2" >АБАЙ</text>
<text font-family='"Liberation Serif", serif' font-size="12" textLength="34.0" lengthAdjust="spacingAndGlyphs" fill="#333" x="227.6" y="727.6" >д-лы</text>
<text font-family='"Liberation Serif", serif' font-size="6.4" textLength="42.8" lengthAdjust="spacingAndGlyphs" fill="#272727" transform="translate(163.0 680.0) rotate(43.2)" >С-к МОСКВА</text>
<text font-family='"Liberation Serif", serif' font-size="6.4" textLength="24.7" lengthAdjust="spacingAndGlyphs" fill="#272727" transform="translate(152.6 692.3) rotate(43.5)" >Мкр. №3</text>
<text font-family='"Liberation Serif", serif' font-size="6.4" textLength="62.9" lengthAdjust="spacingAndGlyphs" fill="#272727" transform="translate(102.5 680.1) rotate(42.5)" >АЛТЫНСАРИН/АБАЙ</text>
<text font-family='"Liberation Serif", serif' font-size="6.4" textLength="23.3" lengthAdjust="spacingAndGlyphs" fill="#272727" transform="translate(131.7 726.2) rotate(46.7)" >Мкр. №4</text>
<text font-family='"Liberation Serif", serif' font-size="7" textLength="61.5" lengthAdjust="spacingAndGlyphs" fill="#272727" transform="translate(224.5 741.0) rotate(45.0)" >МОСКВА метробекеті</text>
<text font-family='"Liberation Serif", serif' font-size="7" textLength="61.0" lengthAdjust="spacingAndGlyphs" fill="#272727" transform="translate(195.8 742.5) rotate(43.5)" >АБАЙ/АЛТЫНСАРИН</text>
<text font-family='"Liberation Serif", serif' font-size="7" textLength="50.8" lengthAdjust="spacingAndGlyphs" fill="#272727" transform="translate(187.7 750.5) rotate(42.0)" >МАГАЗИН АЙДОС</text>
<text font-family='"Liberation Serif", serif' font-size="7" textLength="78.4" lengthAdjust="spacingAndGlyphs" fill="#272727" transform="translate(187.7 764.5) rotate(43.6)" >АЛТЫНСАРИН/ШАЛЯПИН</text>
<text font-family='"Liberation Serif", serif' font-size="7" textLength="44.6" lengthAdjust="spacingAndGlyphs" fill="#272727" transform="translate(78.0 738.5) rotate(43.2)" >Ул. БЕРЕГОВОГО</text>
<text font-family='"Liberation Serif", serif' font-size="7" textLength="40.0" lengthAdjust="spacingAndGlyphs" fill="#272727" transform="translate(108.2 740.5) rotate(45.5)" >ТЮЗ им.Н.САЦ</text>
<text font-family='"Liberation Serif", serif' font-size="12.2" textLength="56.0" lengthAdjust="spacingAndGlyphs" fill="#222" transform="translate(174.9 796.0) rotate(-90)" >АЛТЫН САРИН</text>
<text font-family='"Liberation Serif", serif' font-size="9.5" textLength="18.4" lengthAdjust="spacingAndGlyphs" fill="#222" transform="translate(174.9 737.0) rotate(-90)" >д-лы</text>
<text font-family='"Liberation Serif", serif' font-size="7.4" textLength="47.3" lengthAdjust="spacingAndGlyphs" fill="#1c1c1c" x="119.2" y="793.0" >ШАЛЯПИН к-сі</text>
<text font-family='"Liberation Serif", serif' font-size="12" textLength="52.0" lengthAdjust="spacingAndGlyphs" fill="#222" transform="translate(117.9 855.0) rotate(-90)" >БЕРЕГОВОГО</text>
<text font-family='"Liberation Serif", serif' font-size="9" textLength="15.4" lengthAdjust="spacingAndGlyphs" fill="#222" transform="translate(117.9 800.0) rotate(-90)" >к-сі</text>
<text font-family='"Liberation Serif", serif' font-size="4.8" textLength="17.1" lengthAdjust="spacingAndGlyphs" fill="#3c3c3c" x="78.6" y="816.3" >мкр. №5</text>
<line x1="92.0" y1="814.0" x2="101.0" y2="813.5" stroke="#777" stroke-width="0.7" />
<text font-family='"Liberation Serif", serif' font-size="4.6" textLength="49.2" lengthAdjust="spacingAndGlyphs" fill="#3c3c3c" x="46.5" y="849.2" >ЖАНДОСОВА/БЕРЕГОВОГО</text>
<line x1="95.7" y1="847.5" x2="101.0" y2="847.5" stroke="#777" stroke-width="0.7" />
<text font-family='"Liberation Serif", serif' font-size="4.8" textLength="15.2" lengthAdjust="spacingAndGlyphs" fill="#3c3c3c" x="129.7" y="825.6" >№5 ы.а.</text>
<text font-family='"Liberation Serif", serif' font-size="4.8" textLength="56.8" lengthAdjust="spacingAndGlyphs" fill="#272727" x="129.7" y="838.9" >БЕРЕГОВОЙ/ЖАНДОСОВ</text>
<text font-family='"Liberation Serif", serif' font-size="5.2" textLength="36.0" lengthAdjust="spacingAndGlyphs" fill="#272727" x="129.7" y="852.2" >ЖАНДОСОВ к-сі</text>
<text font-family='"Liberation Serif", serif' font-size="4.2" textLength="18.9" lengthAdjust="spacingAndGlyphs" fill="#3c3c3c" x="152.4" y="857.3" >ТАУГҮЛ ы.а.</text>
<text font-family='"Liberation Serif", serif' font-size="4.8" textLength="20.2" lengthAdjust="spacingAndGlyphs" fill="#3c3c3c" transform="translate(145.5 807.0) rotate(42.0)" >№5 к-сі</text>
<text font-family='"Liberation Serif", serif' font-size="7" textLength="121.6" lengthAdjust="spacingAndGlyphs" fill="#272727" transform="translate(167.5 808.0) rotate(44.3)" >Н.САЦ ат. Балалар мен жасөспірімдер театры</text>
<text font-family='"Liberation Serif", serif' font-size="10" textLength="44.5" lengthAdjust="spacingAndGlyphs" fill="#333" x="111.2" y="875.6" >ТОКТАБАЕВ</text>
<text font-family='"Liberation Serif", serif' font-size="9" textLength="12.3" lengthAdjust="spacingAndGlyphs" fill="#333" x="158.5" y="875.6" >к-сі</text>
<text font-family='"Liberation Serif", serif' font-size="4.8" textLength="22.7" lengthAdjust="spacingAndGlyphs" fill="#3c3c3c" x="124.5" y="889.0" >ВОЗНАД</text>
<text font-family='"Liberation Serif", serif' font-size="4.8" textLength="35.0" lengthAdjust="spacingAndGlyphs" fill="#3c3c3c" x="126.3" y="897.2" >Ул. ЧЕРЕПАНОВА</text>
<line x1="130.0" y1="901.0" x2="146.0" y2="901.0" stroke="#777" stroke-width="0.7" />
<text font-family='"Liberation Serif", serif' font-size="4.8" textLength="35.8" lengthAdjust="spacingAndGlyphs" fill="#3c3c3c" x="192.2" y="896.5" >ЧЕРЕПАНОВ к-сі</text>
<text font-family='"Liberation Serif", serif' font-size="9.6" textLength="36.9" lengthAdjust="spacingAndGlyphs" fill="#333" transform="translate(180.6 911.5) rotate(-90)" >СЕВЕРНОЕ к-о</text>
<text font-family='"Liberation Serif", serif' font-size="5.8" font-weight="bold" textLength="24.5" lengthAdjust="spacingAndGlyphs" fill="#222" x="76.8" y="890.6" >ДЕМИРЕЛ</text>
<text font-family='"Liberation Serif", serif' font-size="5.8" font-weight="bold" textLength="32.2" lengthAdjust="spacingAndGlyphs" fill="#222" x="71.0" y="898.2" >АТЫНДАҒЫ</text>
<text font-family='"Liberation Serif", serif' font-size="5.8" font-weight="bold" textLength="24.6" lengthAdjust="spacingAndGlyphs" fill="#222" x="74.9" y="905.8" >КОЛЛЕДЖ</text>
<text font-family='"Liberation Serif", serif' font-size="10" textLength="46.9" lengthAdjust="spacingAndGlyphs" fill="#333" x="86.6" y="913.6" >РЫСКУЛБЕКОВ</text>
<text font-family='"Liberation Serif", serif' font-size="9" textLength="11.4" lengthAdjust="spacingAndGlyphs" fill="#333" x="136.0" y="913.6" >к-сі</text>
<line x1="98.2" y1="905.0" x2="114.5" y2="927.5" stroke="#333" stroke-width="0.8" />
<path d="M0 0 L-9.5 -3.0 L-9.5 3.0 Z" transform="translate(116.8 930.3) rotate(55.7)" fill="#111" stroke="#111" stroke-width="0.9" stroke-linejoin="round"/>
<line x1="92.0" y1="905.0" x2="115.3" y2="952.0" stroke="#333" stroke-width="0.8" />
<path d="M0 0 L-9 -3.0 L-9 3.0 Z" transform="translate(117.5 954.8) rotate(62)" fill="#111" stroke="#111" stroke-width="0.9" stroke-linejoin="round"/>
<text font-family='"Liberation Serif", serif' font-size="4" textLength="19.9" lengthAdjust="spacingAndGlyphs" fill="#3c3c3c" x="125.4" y="924.8" >КОЛЛЕДЖ</text>
<text font-family='"Liberation Serif", serif' font-size="4" textLength="19.9" lengthAdjust="spacingAndGlyphs" fill="#3c3c3c" x="125.4" y="928.8" >ДЕМИРЕЛЯ</text>
<text font-family='"Liberation Serif", serif' font-size="4.4" textLength="18.9" lengthAdjust="spacingAndGlyphs" fill="#3c3c3c" x="171.8" y="927.8" >КОЛЛЕДЖ</text>
<text font-family='"Liberation Serif", serif' font-size="8.6" textLength="46.5" lengthAdjust="spacingAndGlyphs" fill="#333" transform="translate(161.1 970.0) rotate(-90)" >МУСТАФИН к-сі</text>
<text font-family='"Liberation Serif", serif' font-size="9.8" textLength="49.7" lengthAdjust="spacingAndGlyphs" fill="#333" x="77.8" y="949.4" >ТОРАЙҒЫРОВ</text>
<text font-family='"Liberation Serif", serif' font-size="9" textLength="13.3" lengthAdjust="spacingAndGlyphs" fill="#333" x="130.5" y="949.4" >к-сі</text>
<text font-family='"Liberation Serif", serif' font-size="6" textLength="41.3" lengthAdjust="spacingAndGlyphs" fill="#272727" transform="translate(40.5 908.5) rotate(34.7)" >ТОРАЙҒЫРОВА</text>
<text font-family='"Liberation Serif", serif' font-size="6" textLength="20.6" lengthAdjust="spacingAndGlyphs" fill="#272727" transform="translate(44.5 920.0) rotate(38.1)" >САИНА</text>
<text font-family='"Liberation Serif", serif' font-size="6" font-weight="bold" textLength="31.4" lengthAdjust="spacingAndGlyphs" fill="#222" x="50.8" y="964.6" >Ул. САИНА</text>
<text font-family='"Liberation Serif", serif' font-size="11.6" textLength="69.2" lengthAdjust="spacingAndGlyphs" fill="#333" x="172.0" y="969.3" >мкр.ОРБИТА-1</text>
<text font-family='"Liberation Serif", serif' font-size="11.6" textLength="69.2" lengthAdjust="spacingAndGlyphs" fill="#333" x="172.0" y="983.8" >мкр.ОРБИТА-2</text>
<text font-family='"Liberation Serif", serif' font-size="11.6" textLength="70.3" lengthAdjust="spacingAndGlyphs" fill="#333" x="72.4" y="985.3" >ОРБИТА-3 ш.а.</text>
<text font-family='"Liberation Serif", serif' font-size="11.6" textLength="70.3" lengthAdjust="spacingAndGlyphs" fill="#333" x="72.4" y="995.3" >ОРБИТА-4 ш.а.</text>
<line x1="111.2" y1="974.0" x2="138.0" y2="967.0" stroke="#333" stroke-width="0.8" />
<path d="M0 0 L-9.5 -3.0 L-9.5 3.0 Z" transform="translate(146.0 965.0) rotate(-13)" fill="#111" stroke="#111" stroke-width="0.9" stroke-linejoin="round"/>
<line x1="380.0" y1="885.9" x2="718.5" y2="885.9" stroke="#111" stroke-width="2.2" />
<line x1="381.0" y1="888.4" x2="714.0" y2="888.4" stroke="#111" stroke-width="1.0" />
<line x1="381.0" y1="885.0" x2="381.0" y2="1013.0" stroke="#111" stroke-width="2.2" />
<line x1="383.6" y1="888.0" x2="383.6" y2="1007.0" stroke="#111" stroke-width="1.0" />
<line x1="380.0" y1="1007.2" x2="715.0" y2="1007.2" stroke="#111" stroke-width="2.2" />
<line x1="713.9" y1="885.0" x2="713.9" y2="1008.3" stroke="#111" stroke-width="2.2" />
<line x1="566.7" y1="903.4" x2="566.7" y2="997.0" stroke="#111" stroke-width="2.2" />
<text font-family='"Liberation Serif", serif' font-size="12" textLength="145.0" lengthAdjust="spacingAndGlyphs" fill="#333" x="400.0" y="904.7" >БАҒЫТТЫҢ ҚАШЫҚТЫҒЫ (КМ)</text>
<text font-family='"Liberation Serif", serif' font-size="16" font-weight="bold" textLength="145.1" lengthAdjust="spacingAndGlyphs" fill="#444" x="389.2" y="926.3" >3-ші ОРБИТА ықшам ауданы - ЖЕТІСУ базары -</text>
<text font-family='"Liberation Serif", serif' font-size="17" font-weight="bold" textLength="30.7" lengthAdjust="spacingAndGlyphs" fill="#222" x="537.8" y="928.2" >30,8</text>
<text font-family='"Liberation Serif", serif' font-size="16" font-weight="bold" textLength="141.6" lengthAdjust="spacingAndGlyphs" fill="#444" x="389.2" y="944.4" >ЖЕТІСУ базары -3-ші ОРБИТА ықшам ауданы-</text>
<text font-family='"Liberation Serif", serif' font-size="17" font-weight="bold" textLength="29.5" lengthAdjust="spacingAndGlyphs" fill="#222" x="539.0" y="942.6" >24,6</text>
<text font-family='"Liberation Serif", serif' font-size="12" font-weight="bold" textLength="147.5" lengthAdjust="spacingAndGlyphs" fill="#333" x="393.0" y="962.8" >ЖҮРУГЕ КЕТЕТІН УАҚЫТ (МИН.)</text>
<text font-family='"Liberation Serif", serif' font-size="16" font-weight="bold" textLength="144.8" lengthAdjust="spacingAndGlyphs" fill="#444" x="389.2" y="979.2" >3-ші ОРБИТА ықшам ауданы - ЖЕТІСУ базары -</text>
<text font-family='"Liberation Sans", sans-serif' font-size="16" font-weight="bold" textLength="26.3" lengthAdjust="spacingAndGlyphs" fill="#222" x="539.7" y="979.6" >103</text>
<text font-family='"Liberation Serif", serif' font-size="16" font-weight="bold" textLength="141.6" lengthAdjust="spacingAndGlyphs" fill="#444" x="389.2" y="996.6" >ЖЕТІСУ базары -3-ші ОРБИТА ықшам ауданы-</text>
<text font-family='"Liberation Sans", sans-serif' font-size="16" font-weight="bold" textLength="26.3" lengthAdjust="spacingAndGlyphs" fill="#222" x="539.7" y="997.4" >103</text>
<text font-family='"Liberation Serif", serif' font-size="16" textLength="95.8" lengthAdjust="spacingAndGlyphs" fill="#333" x="573.6" y="908.6" >ЖҰМЫС КЕСТЕСІ</text>
<text font-family='"Liberation Serif", serif' font-size="13.5" font-weight="bold" textLength="93.7" lengthAdjust="spacingAndGlyphs" fill="#333" x="577.0" y="926.6" >ЖҮРУДІҢ БАСТАЛУЫ -</text>
<text font-family='"Liberation Sans", sans-serif' font-size="15.2" font-weight="bold" textLength="30.8" lengthAdjust="spacingAndGlyphs" fill="#222" x="672.0" y="926.8" >6:10</text>
<text font-family='"Liberation Serif", serif' font-size="13.5" font-weight="bold" textLength="77.0" lengthAdjust="spacingAndGlyphs" fill="#333" x="571.8" y="957.4" >ЖҮРІС АРАЛЫҒЫ -</text>
<text font-family='"Liberation Sans", sans-serif' font-size="16" font-weight="bold" textLength="15.5" lengthAdjust="spacingAndGlyphs" fill="#222" x="650.0" y="958.7" >17</text>
<text font-family='"Liberation Serif", serif' font-size="11.5" textLength="23.1" lengthAdjust="spacingAndGlyphs" fill="#555" x="667.6" y="957.4" >МИН.</text>
<text font-family='"Liberation Serif", serif' font-size="13.5" font-weight="bold" textLength="93.2" lengthAdjust="spacingAndGlyphs" fill="#333" x="571.8" y="990.8" >ЖҮРУДІҢ АЯҚТАЛУЫ -</text>
<text font-family='"Liberation Sans", sans-serif' font-size="14.6" font-weight="bold" textLength="32.8" lengthAdjust="spacingAndGlyphs" fill="#222" x="672.0" y="991.3" >23:15</text>
</svg>
</body>
</html>
